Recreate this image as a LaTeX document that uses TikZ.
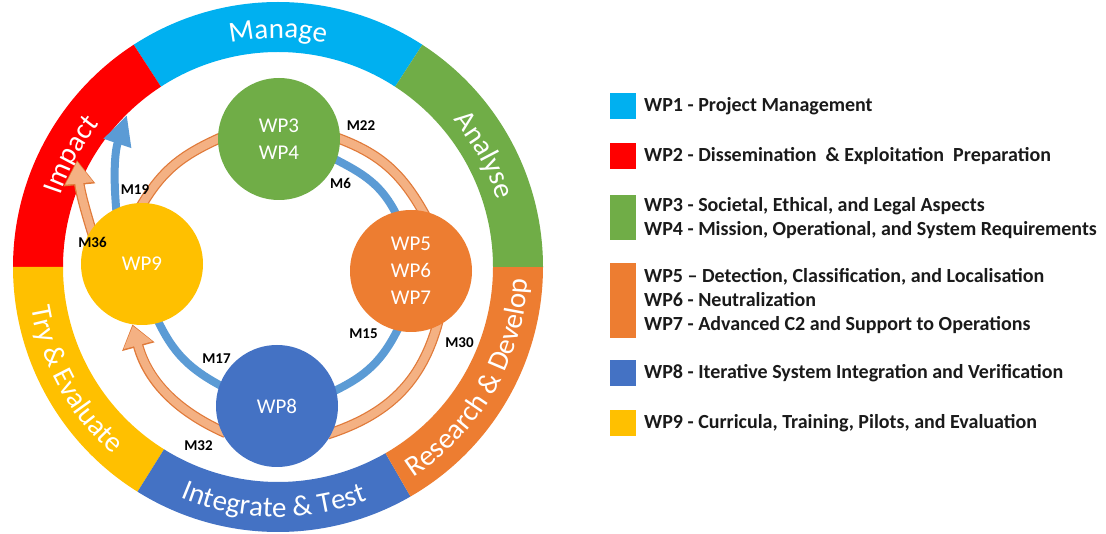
\documentclass[tikz,border=0pt]{standalone}
\usepackage{fontspec}
\setmainfont{Carlito}
\usetikzlibrary{arrows.meta,decorations.text}

% work-package colours
\definecolor{wpcyan}{HTML}{00B0F0}
\definecolor{wpred}{HTML}{FF0000}
\definecolor{wpgreen}{HTML}{70AD47}
\definecolor{wporange}{HTML}{ED7D31}
\definecolor{wpblue}{HTML}{4472C4}
\definecolor{wpyellow}{HTML}{FFC000}
% connector colours
\definecolor{linkblue}{HTML}{5B9BD5}
\definecolor{linksalmon}{HTML}{F4B183}
\definecolor{linkedge}{HTML}{E07A3A}
\definecolor{legendink}{HTML}{1A1A1A}

\newcommand\ringfont{\fontsize{29}{34}\selectfont}

\pgfdeclarelayer{ringlayer}
\pgfdeclarelayer{linklayer}
\pgfsetlayers{ringlayer,linklayer,main}

\tikzset{
  wpcircle/.style={circle, minimum size=122pt, inner sep=0pt, text=white,
    align=center, font=\fontsize{21}{27}\selectfont},
  milestone/.style={font=\fontsize{15}{18}\selectfont\bfseries, text=black, inner sep=0pt},
  bluelink/.style={draw=linkblue, line width=8pt},
  salmonedge/.style={draw=linkedge, line width=10.5pt},
  salmonfill/.style={draw=linksalmon, line width=8pt},
  legendbox/.style={minimum width=26pt, minimum height=26pt, inner sep=0pt},
  legendtext/.style={anchor=west, inner sep=0pt, align=left, text=legendink,
    font=\fontsize{20}{24}\selectfont\bfseries},
  ringtext/.style={decorate, decoration={text along path, text color=white,
    text align=center, text={|\ringfont|#1}}},
}

\begin{document}
\begin{tikzpicture}[x=1pt,y=1pt]
\useasboundingbox (0,0) rectangle (1106,533);

% ---------- outer phase ring ----------
\begin{pgfonlayer}{ringlayer}
\fill[white] (0,0) rectangle (1106,533);
\begin{scope}[shift={(278,266)}]
  \fill[wpcyan]   (57:265pt)  arc[start angle=57, end angle=123,radius=265pt] -- (123:215pt) arc[start angle=123,end angle=57, radius=215pt] -- cycle;
  \fill[wpred]    (123:265pt) arc[start angle=123,end angle=180,radius=265pt] -- (180:215pt) arc[start angle=180,end angle=123,radius=215pt] -- cycle;
  \fill[wpyellow] (180:265pt) arc[start angle=180,end angle=238,radius=265pt] -- (238:215pt) arc[start angle=238,end angle=180,radius=215pt] -- cycle;
  \fill[wpblue]   (238:265pt) arc[start angle=238,end angle=300,radius=265pt] -- (300:215pt) arc[start angle=300,end angle=238,radius=215pt] -- cycle;
  \fill[wporange] (300:265pt) arc[start angle=300,end angle=360,radius=265pt] -- (360:215pt) arc[start angle=360,end angle=300,radius=215pt] -- cycle;
  \fill[wpgreen]  (0:265pt)   arc[start angle=0,  end angle=57, radius=265pt] -- (57:215pt)  arc[start angle=57, end angle=0,  radius=215pt] -- cycle;

  % phase names: upper half clockwise, lower half counter-clockwise
  \path[ringtext=Manage]  (123:229pt) arc[start angle=123,end angle=57, radius=229pt];
  \path[ringtext=Impact]  (180:229pt) arc[start angle=180,end angle=123,radius=229pt];
  \path[ringtext=Analyse] (57:229pt)  arc[start angle=57, end angle=0,  radius=229pt];
  \path[ringtext={Try {\&} Evaluate}]     (180:250pt) arc[start angle=180,end angle=238,radius=250pt];
  \path[ringtext={Integrate {\&} Test}]   (238:250pt) arc[start angle=238,end angle=300,radius=250pt];
  \path[ringtext={Research {\&} Develop}] (300:250pt) arc[start angle=300,end angle=360,radius=250pt];
\end{scope}
\end{pgfonlayer}

% ---------- work-package circles ----------
\node[wpcircle, fill=wpgreen]  (g34)  at (279,394) {WP3\\WP4};
\node[wpcircle, fill=wporange] (g567) at (411,262) {WP5\\WP6\\WP7};
\node[wpcircle, fill=wpblue]   (g8)   at (277,127) {WP8};
\node[wpcircle, fill=wpyellow] (g9)   at (142,269) {WP9};

\coordinate (m19tip) at (127,418);
\coordinate (m36tip) at (77,373);

% ---------- milestone connectors ----------
\begin{pgfonlayer}{linklayer}
  % inner (blue) loop
  \draw[bluelink, shorten <=-5pt, shorten >=-5pt] (g34.-20) to[out=-27,in=116] (g567.105);
  \draw[bluelink, shorten <=-5pt, shorten >=-5pt] (g567.-103) to[out=-116,in=25] (g8.15);
  \draw[bluelink, shorten <=-5pt, shorten >=-5pt] (g8.160) to[out=152,in=-65] (g9.-74);
  \draw[bluelink, shorten <=-6pt, -{Triangle[width=27pt,length=30pt]}] (g9.115) to[bend left=12] (m19tip);

  % outer (salmon) loop, drawn as outline then fill
  \foreach \pass in {salmonedge,salmonfill}{
    \draw[\pass, shorten <=-5pt, shorten >=-5pt] (g9.89) to[out=60,in=204] (g34.west);
    \draw[\pass, shorten <=-5pt, shorten >=-5pt] (g34.east) to[out=-20,in=119] (g567.79);
    \draw[\pass, shorten <=-5pt, shorten >=-5pt] (g567.-65) to[out=-105,in=18] (g8.-26);
  }
  \draw[salmonedge, shorten <=-5pt, -{Triangle[width=32pt,length=23pt]}] (g8.204) to[out=156,in=-75] (g9.261);
  \draw[salmonfill, shorten <=-5pt, shorten >=1.5pt, -{Triangle[width=28.5pt,length=20pt]}] (g8.204) to[out=156,in=-75] (g9.261);
  \draw[salmonedge, shorten <=-6pt, -{Triangle[width=30pt,length=25pt]}] (g9.146) to[bend left=6] (m36tip);
  \draw[salmonfill, shorten <=-6pt, shorten >=1.5pt, -{Triangle[width=26.5pt,length=22pt]}] (g9.146) to[bend left=6] (m36tip);
\end{pgfonlayer}

% ---------- milestone labels ----------
\node[milestone] (m22) at (361,407)     {M22};
\node[milestone] (m6)  at (340.5,349.5) {M6};
\node[milestone] (m15) at (363.5,199)   {M15};
\node[milestone] (m30) at (459.5,190.5) {M30};
\node[milestone] (m17) at (216.5,174)   {M17};
\node[milestone] (m32) at (198.5,87)    {M32};
\node[milestone] (m19) at (135,343)     {M19};
\node[milestone] (m36) at (92.5,290.5)  {M36};

% ---------- legend ----------
\node[legendbox, fill=wpcyan]   (k1) at (623,427) {};
\node[legendtext] (t1) at (644,427) {WP1 - Project Management};
\node[legendbox, fill=wpred]    (k2) at (623,377) {};
\node[legendtext] (t2) at (644,377) {WP2 - Dissemination\ \ \& Exploitation\ \ Preparation};
\node[legendbox, fill=wpgreen, minimum height=45pt] (k3) at (623,315.5) {};
\node[legendtext] (t3) at (644,315) {WP3 - Societal, Ethical, and Legal Aspects\\WP4 - Mission, Operational, and System Requirements};
\node[legendbox, fill=wporange, minimum height=75pt] (k5) at (623,232.5) {};
\node[legendtext] (t5) at (644,232) {WP5 -- Detection, Classification, and Localisation\\WP6 - Neutralization\\WP7 - Advanced C2 and Support to Operations};
\node[legendbox, fill=wpblue]   (k8) at (623,160) {};
\node[legendtext] (t8) at (644,160) {WP8 - Iterative System Integration and Verification};
\node[legendbox, fill=wpyellow] (k9) at (623,110) {};
\node[legendtext] (t9) at (644,110) {WP9 - Curricula, Training, Pilots, and Evaluation};
\end{tikzpicture}
\end{document}
